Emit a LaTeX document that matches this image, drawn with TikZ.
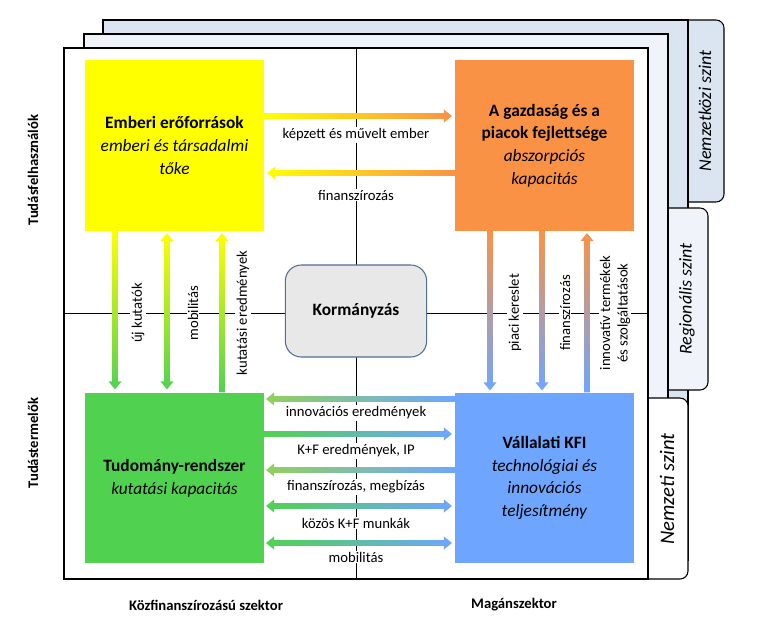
\documentclass[tikz,border=0pt]{standalone}
\usepackage{fontspec}
\setmainfont{Carlito}
\usepackage{tikz}
\usetikzlibrary{calc}

\definecolor{yel}{RGB}{255,255,0}
\definecolor{org}{RGB}{250,146,70}
\definecolor{grn}{RGB}{80,210,80}
\definecolor{lgr}{RGB}{146,208,92}
\definecolor{blu}{RGB}{110,166,255}
\definecolor{govfill}{RGB}{232,232,232}
\definecolor{govline}{RGB}{80,110,150}
\definecolor{back}{RGB}{219,229,241}
\definecolor{mid}{RGB}{240,244,250}

% thick shaded arrow: #1 shading, #2 start, #3 tip
\newcommand{\onearrow}[3]{%
  \path ($(#3)!6pt!(#2)$) coordinate (hb);
  \shade[#1] ($(#2)!2.2pt!90:(#3)$) -- ($(hb)!2.2pt!90:(#3)$) -- ($(hb)!4.9pt!90:(#3)$) -- (#3)
    -- ($(hb)!4.9pt!-90:(#3)$) -- ($(hb)!2.2pt!-90:(#3)$) -- ($(#2)!2.2pt!-90:(#3)$) -- cycle;}
% same with two tips
\newcommand{\twoarrow}[3]{%
  \path ($(#2)!6pt!(#3)$) coordinate (ha) ($(#3)!6pt!(#2)$) coordinate (hb);
  \shade[#1] (#2) -- ($(ha)!4.9pt!90:(#3)$) -- ($(ha)!2.2pt!90:(#3)$) -- ($(hb)!2.2pt!90:(#3)$)
    -- ($(hb)!4.9pt!90:(#3)$) -- (#3) -- ($(hb)!4.9pt!-90:(#3)$) -- ($(hb)!2.2pt!-90:(#3)$)
    -- ($(ha)!2.2pt!-90:(#3)$) -- ($(ha)!4.9pt!-90:(#3)$) -- cycle;}

\begin{document}
\begin{tikzpicture}[x=0.75pt,y=-0.75pt,
  box/.style={minimum width=134pt,minimum height=128pt,align=center,font=\fontsize{13}{17}\selectfont},
  lbl/.style={fill=white,inner sep=1pt,font=\fontsize{11}{13}\selectfont},
  vlbl/.style={lbl,rotate=90,align=center},
  side/.style={font=\fontsize{11}{13}\selectfont\bfseries},
  tab/.style={rotate=90,font=\fontsize{13.5}{16}\selectfont\itshape}]
\useasboundingbox (0,0) rectangle (764,632);

% levels
\draw[line width=0.8pt,fill=back,rounded corners=6pt] (670,20) rectangle (724,202);
\draw[line width=0.8pt,fill=back] (103,20) rectangle (688,560);
\draw[line width=0.8pt,fill=mid,rounded corners=6pt] (650,208) rectangle (708,390);
\draw[line width=0.8pt,fill=mid] (84,34) rectangle (668,560);
\draw[line width=0.8pt,fill=white,rounded corners=6pt] (630,398) rectangle (688,579);
\draw[line width=0.8pt,fill=white] (64,48) rectangle (648,579);
\node[tab] (tint) at (705,111) {Nemzetközi szint};
\node[tab] (treg) at (687,299) {Regionális szint};
\node[tab,font=\fontsize{15.5}{18}\selectfont\itshape] (tnat) at (667,489) {Nemzeti szint};

% quadrants
\draw[line width=0.6pt] (64,313) -- (648,313);
\draw[line width=0.6pt] (356,48) -- (356,579);

\node[box,fill=yel] (hum) at (174.5,145.5) {\textbf{Emberi erőforrások}\\ \textit{emberi és társadalmi}\\ \textit{tőke}};
\node[box,fill=org] (eco) at (544.5,145.5) {\textbf{A gazdaság és a}\\ \textbf{piacok fejlettsége}\\ \textit{abszorpciós}\\ \textit{kapacitás}};
\node[box,fill=grn] (sci) at (174.5,478) {\textbf{Tudomány-rendszer}\\ \textit{kutatási kapacitás}};
\node[box,fill=blu] (ent) at (544.5,478) {\textbf{Vállalati KFI}\\ \textit{technológiai és}\\ \textit{innovációs}\\ \textit{teljesítmény}};
\node[draw=govline,fill=govfill,line width=0.8pt,rounded corners=12pt,minimum width=106pt,minimum height=69pt,
  font=\fontsize{13}{17}\selectfont\bfseries] (gov) at (356,311) {Kormányzás};

% flows between the upper boxes
\coordinate (s1) at (hum.east |- 0,116);
\coordinate (e1) at ($(eco.west |- 0,116)+(-3,0)$);
\onearrow{left color=yel,right color=org}{s1}{e1}
\coordinate (s2) at (eco.west |- 0,173);
\coordinate (e2) at ($(hum.east |- 0,173)+(3,0)$);
\onearrow{left color=yel,right color=org}{s2}{e2}
\node[lbl] (l1) at (356,135) {képzett és művelt ember};
\node[lbl] (l2) at (356,195) {finanszírozás};

% left column
\coordinate (s3) at (hum.south -| 115,0);
\coordinate (e3) at ($(sci.north -| 115,0)+(0,-3)$);
\onearrow{top color=yel,bottom color=grn}{s3}{e3}
\coordinate (s4) at ($(hum.south -| 167,0)+(0,2)$);
\coordinate (e4) at ($(sci.north -| 167,0)+(0,-3)$);
\twoarrow{top color=yel,bottom color=grn}{s4}{e4}
\coordinate (s5) at (sci.north -| 222,0);
\coordinate (e5) at ($(hum.south -| 222,0)+(0,2)$);
\onearrow{top color=yel,bottom color=grn}{s5}{e5}
\node[vlbl] (l3) at (138,313) {új kutatók};
\node[vlbl] (l4) at (193,313) {mobilitás};
\node[vlbl] (l5) at (243,313) {kutatási eredmények};

% right column
\coordinate (s6) at (eco.south -| 490,0);
\coordinate (e6) at ($(ent.north -| 490,0)+(0,-2)$);
\onearrow{top color=org,bottom color=blu}{s6}{e6}
\coordinate (s7) at (eco.south -| 542,0);
\coordinate (e7) at ($(ent.north -| 542,0)+(0,-2)$);
\onearrow{top color=org,bottom color=blu}{s7}{e7}
\coordinate (s8) at (ent.north -| 587,0);
\coordinate (e8) at ($(eco.south -| 587,0)+(0,2)$);
\onearrow{top color=org,bottom color=blu}{s8}{e8}
\node[vlbl] (l6) at (515,313) {piaci kereslet};
\node[vlbl] (l7) at (565,313) {finanszírozás};
\node[vlbl] (l8) at (615,313) {innovatív termékek\\ és szolgáltatások};

% flows between the lower boxes
\coordinate (s9) at (ent.west |- 0,399);
\coordinate (e9) at ($(sci.east |- 0,399)+(2,0)$);
\onearrow{left color=lgr,right color=blu}{s9}{e9}
\coordinate (s10) at (sci.east |- 0,434);
\coordinate (e10) at ($(ent.west |- 0,434)+(-3,0)$);
\onearrow{left color=grn,right color=blu}{s10}{e10}
\coordinate (s11) at (ent.west |- 0,470);
\coordinate (e11) at ($(sci.east |- 0,470)+(2,0)$);
\onearrow{left color=lgr,right color=blu}{s11}{e11}
\coordinate (s12) at ($(sci.east |- 0,506)+(2,0)$);
\coordinate (e12) at ($(ent.west |- 0,506)+(-3,0)$);
\twoarrow{left color=grn,right color=blu}{s12}{e12}
\coordinate (s13) at ($(sci.east |- 0,543)+(2,0)$);
\coordinate (e13) at ($(ent.west |- 0,543)+(-3,0)$);
\twoarrow{left color=grn,right color=blu}{s13}{e13}
\node[lbl] (l9) at (356,413) {innovációs eredmények};
\node[lbl] (l10) at (356,451) {K+F eredmények, IP};
\node[lbl] (l11) at (356,487) {finanszírozás, megbízás};
\node[lbl] (l12) at (356,523) {közös K+F munkák};
\node[lbl] (l13) at (356,557) {mobilitás};

% axes
\node[side,rotate=90] (users) at (33,170) {Tudásfelhasználók};
\node[side,rotate=90] (makers) at (33,443) {Tudástermelők};
\node[side] (pub) at (206,605) {Közfinanszírozású szektor};
\node[side] (priv) at (514,605) {Magánszektor};
\end{tikzpicture}
\end{document}
